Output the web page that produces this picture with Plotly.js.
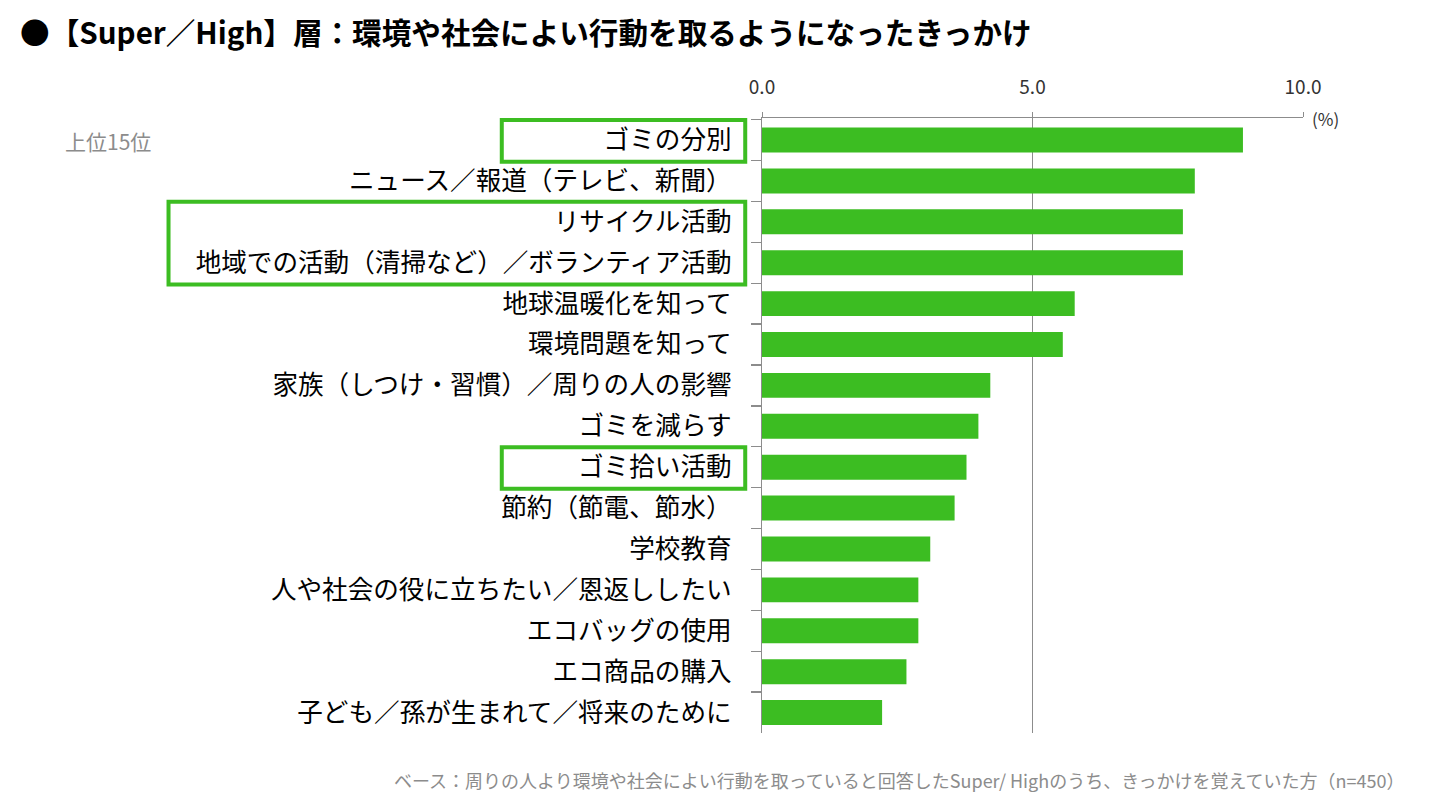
<!DOCTYPE html>
<html>
<head>
<meta charset="utf-8">
<script src="https://cdn.plot.ly/plotly-3.0.1.min.js"></script>
<style>
  html, body { margin: 0; padding: 0; background: #fff; }
  #chart { width: 1434px; height: 805px; }
</style>
</head>
<body>
<div id="chart"></div>
<script>
// Top 15 triggers (percent of respondents, n=450)
const categories = [
  'ゴミの分別',
  'ニュース／報道（テレビ、新聞）',
  'リサイクル活動',
  '地域での活動（清掃など）／ボランティア活動',
  '地球温暖化を知って',
  '環境問題を知って',
  '家族（しつけ・習慣）／周りの人の影響',
  'ゴミを減らす',
  'ゴミ拾い活動',
  '節約（節電、節水）',
  '学校教育',
  '人や社会の役に立ちたい／恩返ししたい',
  'エコバッグの使用',
  'エコ商品の購入',
  '子ども／孫が生まれて／将来のために'
];
const values = [8.89, 8.0, 7.78, 7.78, 5.78, 5.56, 4.22, 4.0, 3.78, 3.56, 3.11, 2.89, 2.89, 2.67, 2.22];
const xTicks = [0, 5, 10];
const xTickText = ['0.0', '5.0', '10.0'];

// Highlighted label groups: [first index, last index, left edge in paper units]
const highlightGroups = [[0, 0, -0.481], [2, 3, -1.097], [8, 8, -0.481]];

const JP = '"Noto Sans CJK JP", "Noto Sans", sans-serif';
const GREEN = '#3cbd22';
const AXIS = '#8c8c8c';

const trace = {
  type: 'bar',
  orientation: 'h',
  x: values,
  y: categories,
  marker: { color: GREEN },
  hoverinfo: 'skip'
};

const shapes = highlightGroups.map(g => ({
  type: 'rect',
  xref: 'paper', yref: 'y',
  x0: g[2], x1: -0.031,
  y0: g[0] - 0.49, y1: g[1] + 0.53,
  line: { color: GREEN, width: 4 },
  fillcolor: 'rgba(0,0,0,0)'
}));

const layout = {
  width: 1434,
  height: 805,
  margin: { l: 762, r: 131, t: 118, b: 72 },
  paper_bgcolor: '#fff',
  plot_bgcolor: '#fff',
  showlegend: false,
  bargap: 0.39,
  title: {
    text: '●【Super／High】層：環境や社会によい行動を取るようになったきっかけ',
    font: { family: JP, size: 29.6, color: '#000', weight: 'bold' },
    x: 0.014, xref: 'container', xanchor: 'left',
    y: 0.958, yref: 'container', yanchor: 'middle',
    pad: { l: 0 }
  },
  xaxis: {
    side: 'top',
    range: [0, 10],
    tickvals: xTicks,
    ticktext: xTickText,
    showgrid: true,
    gridcolor: AXIS,
    gridwidth: 1.3,
    zeroline: false,
    showline: true,
    linecolor: AXIS,
    linewidth: 1.3,
    ticks: 'outside',
    ticklen: 5,
    tickcolor: AXIS,
    ticklabelstandoff: 10,
    tickfont: { family: JP, size: 19, color: '#333' },
    fixedrange: true
  },
  yaxis: {
    type: 'category',
    autorange: 'reversed',
    showline: true,
    linecolor: AXIS,
    linewidth: 1.3,
    showgrid: false,
    zeroline: false,
    ticks: 'outside',
    tickson: 'boundaries',
    ticklen: 10,
    tickcolor: AXIS,
    tickwidth: 1.3,
    ticklabelstandoff: 24,
    tickfont: { family: JP, size: 25.6, color: '#000' },
    fixedrange: true
  },
  shapes: shapes,
  annotations: [
    {
      text: '(%)',
      xref: 'paper', yref: 'paper',
      x: 1, y: 1, xanchor: 'left', yanchor: 'middle',
      xshift: 7,
      showarrow: false,
      font: { family: JP, size: 17, color: '#333' }
    },
    {
      text: '上位15位',
      xref: 'paper', yref: 'paper',
      x: -1.292, y: 0.962, xanchor: 'left', yanchor: 'middle',
      showarrow: false,
      font: { family: JP, size: 21, color: '#8c8c8c' }
    },
    {
      text: 'ベース：周りの人より環境や社会によい行動を取っていると回答したSuper/ Highのうち、きっかけを覚えていた方（n=450）',
      xref: 'paper', yref: 'paper',
      x: 1.175, y: -0.077, xanchor: 'right', yanchor: 'middle',
      xshift: 8,
      showarrow: false,
      font: { family: JP, size: 18, color: '#8c8c8c' }
    }
  ]
};

Plotly.newPlot('chart', [trace], layout, { displayModeBar: false, staticPlot: true });
</script>
</body>
</html>
